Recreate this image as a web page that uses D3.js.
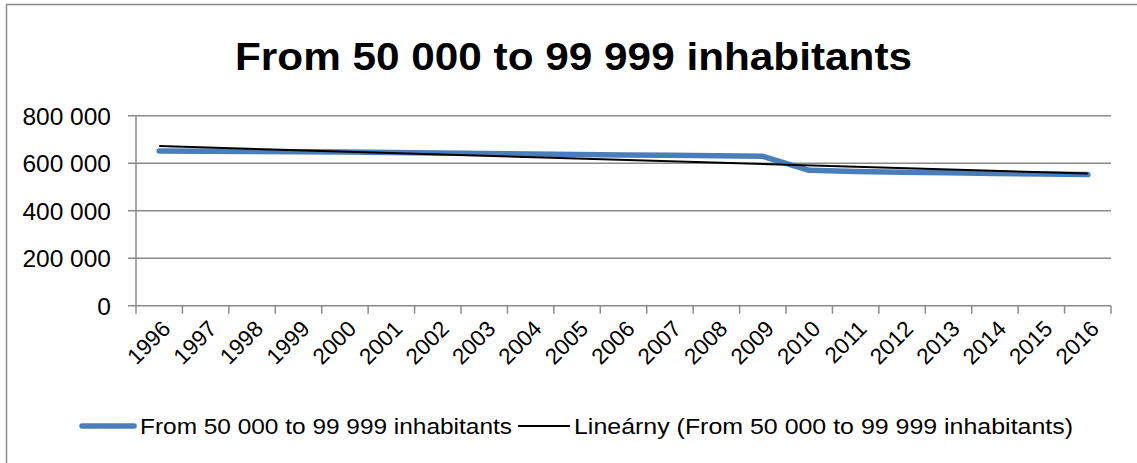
<!DOCTYPE html>
<html><head><meta charset="utf-8">
<script src="https://cdn.jsdelivr.net/npm/d3@7"></script>
<style>html,body{margin:0;padding:0;background:#fff;}svg{display:block;}</style>
</head><body>
<svg id="c" width="1137" height="463"></svg>
<script>
const title = "From 50 000 to 99 999 inhabitants";
const seriesName = "From 50 000 to 99 999 inhabitants";
const trendName = "Lineárny (From 50 000 to 99 999 inhabitants)";
const years = ["1996","1997","1998","1999","2000","2001","2002","2003","2004","2005","2006","2007","2008","2009","2010","2011","2012","2013","2014","2015","2016"];
const values = [651000,650000,649000,648000,647000,645000,643000,641000,639000,637000,635000,633000,631000,629000,570000,565000,562000,560000,557000,555000,552000];
const yTicks = [0,200000,400000,600000,800000];

const font = "'Liberation Sans', Arial, sans-serif";
const svg = d3.select("#c");
const L = 136, R = 1111, T = 115.7, B = 305.7;

// chart border
svg.append("rect").attr("x",6.5).attr("y",4.5).attr("width",1140).attr("height",470)
  .attr("fill","none").attr("stroke","#8c8c8c").attr("stroke-width",1.5);

const x = d3.scaleBand().domain(years).range([L,R]).padding(0);
const xi = d3.scaleLinear().domain([0,years.length]).range([L,R]);
const y = d3.scaleLinear().domain([0,800000]).range([B,T]);
const loc = d3.formatLocale({decimal:",",thousands:" ",grouping:[3],currency:["",""]});
const fmt = loc.format(",");

// gridlines
svg.append("g").selectAll("line").data(yTicks).join("line")
  .attr("x1",L-8).attr("x2",R).attr("y1",d=>y(d)).attr("y2",d=>y(d))
  .attr("stroke","#8a8a8a").attr("stroke-width",1.5);
// y axis line
svg.append("line").attr("x1",L).attr("x2",L).attr("y1",T).attr("y2",B)
  .attr("stroke","#8a8a8a").attr("stroke-width",1.5);
// y labels
svg.append("g").selectAll("text").data(yTicks).join("text")
  .attr("x",L-25).attr("y",d=>y(d)).attr("dy","0.36em").attr("text-anchor","end")
  .attr("font-family",font).attr("font-size",24.5).attr("fill","#000").text(d=>fmt(d));

// x tick marks at category boundaries
svg.append("g").selectAll("line").data(d3.range(years.length+1)).join("line")
  .attr("x1",d=>xi(d)).attr("x2",d=>xi(d)).attr("y1",B).attr("y2",B+8)
  .attr("stroke","#8a8a8a").attr("stroke-width",1.5);
// x labels
svg.append("g").selectAll("text").data(years).join("text")
  .attr("transform",d=>`translate(${x(d)+x.bandwidth()/2+7},${B+19}) rotate(-45)`)
  .attr("text-anchor","end").attr("dy","0.35em")
  .attr("font-family",font).attr("font-size",22.5).attr("fill","#000").text(d=>d);

// series line
const pts = years.map((yr,i)=>({yr, v: values[i]}));
const line = d3.line().x(d=>x(d.yr)+x.bandwidth()/2).y(d=>y(d.v));
svg.append("path").datum(pts).attr("d",line).attr("fill","none")
  .attr("stroke","#4a7ebb").attr("stroke-width",5.5).attr("stroke-linejoin","round").attr("stroke-linecap","round");

// linear trendline (least squares from the data)
const n = values.length, idx = d3.range(n);
const mx = d3.mean(idx), my = d3.mean(values);
const slope = d3.sum(idx, i=>(i-mx)*(values[i]-my)) / d3.sum(idx, i=>(i-mx)*(i-mx));
const icpt = my - slope*mx;
const trend = [0, n-1].map(i=>({yr: years[i], v: icpt + slope*i}));
svg.append("path").datum(trend).attr("d",line).attr("fill","none")
  .attr("stroke","#000").attr("stroke-width",2);

// title
svg.append("text").attr("x",573.5).attr("y",70).attr("text-anchor","middle")
  .attr("font-family",font).attr("font-weight","bold").attr("font-size",39)
  .attr("textLength",677).attr("lengthAdjust","spacingAndGlyphs").text(title);

// legend
const ly = 426;
svg.append("line").attr("x1",82).attr("x2",134).attr("y1",ly).attr("y2",ly)
  .attr("stroke","#4a7ebb").attr("stroke-width",5.5).attr("stroke-linecap","round");
svg.append("text").attr("x",140).attr("y",ly).attr("dy","0.36em")
  .attr("font-family",font).attr("font-size",22).attr("textLength",372).attr("lengthAdjust","spacingAndGlyphs").text(seriesName);
svg.append("line").attr("x1",518).attr("x2",570).attr("y1",ly).attr("y2",ly)
  .attr("stroke","#000").attr("stroke-width",2);
svg.append("text").attr("x",574).attr("y",ly).attr("dy","0.36em")
  .attr("font-family",font).attr("font-size",22).attr("textLength",499).attr("lengthAdjust","spacingAndGlyphs").text(trendName);
</script>
</body></html>
